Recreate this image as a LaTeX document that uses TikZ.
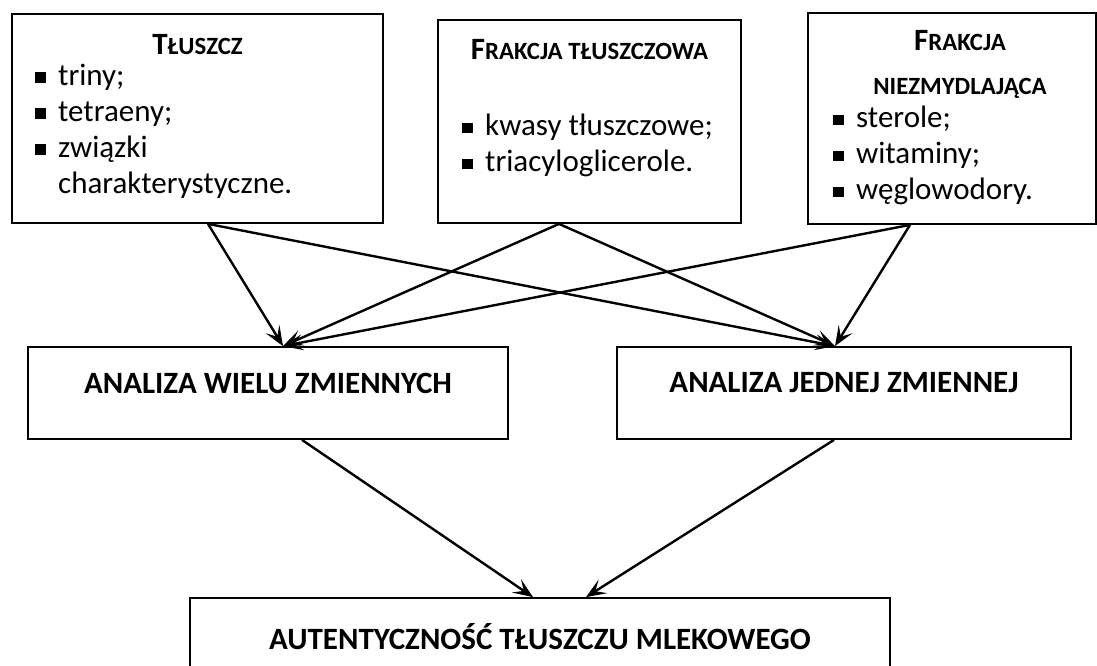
\documentclass[tikz,border=0pt]{standalone}
\usepackage{fontspec}
\setmainfont{Carlito}
\usetikzlibrary{arrows.meta}

% faked small caps for the headings
\newcommand{\fsc}[2]{#1{\fontsize{12.4}{14}\selectfont #2}}
\newcommand{\itm}{\raisebox{0.2ex}{\rule{0.7ex}{0.7ex}}\hspace{0.4em}}

\tikzset{
  box/.style={draw, line width=0.9pt, inner sep=0pt},
  head/.style={font=\fontsize{15.5}{20}\selectfont\bfseries, align=center, inner sep=0pt},
  list/.style={font=\fontsize{15.5}{18}\selectfont, align=left, inner sep=0pt, anchor=north west},
  big/.style={font=\fontsize{15.5}{18}\selectfont\bfseries, inner sep=0pt},
  link/.style={line width=1.2pt, -{Stealth[length=10pt, width=8pt, inset=4.5pt]}}
}

\begin{document}
\begin{tikzpicture}[x=0.5pt, y=-0.5pt]
    \clip (0,0) rectangle (1097,665);

    % Boxes of the upper row
    \node[box, minimum width=185.5pt, minimum height=104.5pt] (fat) at (197.5,118.5) {};
    \node[box, minimum width=151.5pt, minimum height=101.5pt] (fatfr) at (589.5,121.5) {};
    \node[box, minimum width=144pt, minimum height=105.5pt] (unsap) at (952,118.5) {};

    % Analysis boxes
    \node[box, minimum width=240pt, minimum height=46pt] (multi) at (268,393) {};
    \node[box, minimum width=227pt, minimum height=46pt] (uni) at (844,393) {};
    \node[box, minimum width=350pt, minimum height=46pt] (auth) at (540,644) {};

    % Texts of the upper row
    \node[head] (fathead) at (197.5,45) {\fsc{T}{ŁUSZCZ}};
    \node[list] (fatlist) at (35,64) {\itm triny;\\ \itm tetraeny;\\ \itm związki\\ \hphantom{\itm}charakterystyczne.};
    \node[head] (fatfrhead) at (589.5,50) {\fsc{F}{RAKCJA TŁUSZCZOWA}};
    \node[list] (fatfrlist) at (462,114) {\itm kwasy tłuszczowe;\\ \itm triacyloglicerole.};
    \node[head] (unsaphead) at (960,64) {\fsc{F}{RAKCJA}\\[2pt] {\fontsize{12.4}{14}\selectfont NIEZMYDLAJĄCA}};
    \node[list] (unsaplist) at (833,106) {\itm sterole;\\ \itm witaminy;\\ \itm węglowodory.};

    % Texts of the lower boxes
    \node[big] (multitext) at (268,383) {ANALIZA WIELU ZMIENNYCH};
    \node[big] (unitext) at (844,383) {ANALIZA JEDNEJ ZMIENNEJ};
    \node[big] (authtext) at (540,637) {AUTENTYCZNOŚĆ TŁUSZCZU MLEKOWEGO};

    % Arrows to the analyses
    \draw[link] ([xshift=5.25pt]fat.south) -- ([xshift=7.5pt]multi.north);
    \draw[link] ([xshift=5.25pt]fat.south) -- ([xshift=-4.5pt]uni.north);
    \draw[link] ([xshift=-15.25pt]fatfr.south) -- ([xshift=7.5pt]multi.north);
    \draw[link] ([xshift=-15.25pt]fatfr.south) -- ([xshift=-4.5pt]uni.north);
    \draw[link] ([xshift=-21pt]unsap.south) -- ([xshift=7.5pt]multi.north);
    \draw[link] ([xshift=-21pt]unsap.south) -- ([xshift=-4.5pt]uni.north);

    % Arrows to the result
    \draw[link] ([xshift=17pt]multi.south) -- ([xshift=-3.5pt]auth.north);
    \draw[link] ([xshift=-5pt]uni.south) -- ([xshift=23pt]auth.north);
\end{tikzpicture}
\end{document}
